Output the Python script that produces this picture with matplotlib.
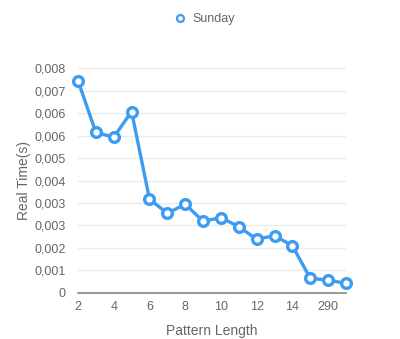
import numpy as np
import matplotlib.pyplot as plt

plt.rcParams['font.family'] = ['Liberation Sans', 'DejaVu Sans']

# categories (pattern length) and measured times
categories = ['2', '3', '4', '5', '6', '7', '8', '9', '10', '11', '12', '13', '14', '15', '290', '300']
sunday = [0.00755, 0.00571, 0.00554, 0.00645, 0.00334, 0.00283, 0.00316, 0.00255,
          0.00268, 0.00236, 0.00191, 0.00204, 0.00168, 0.00052, 0.00046, 0.00034]
ytick_vals = [0, 0.0008, 0.0016, 0.0024, 0.0032, 0.004, 0.0048, 0.0056, 0.0064, 0.0072, 0.008]
ytick_labels = ['0', '0,001', '0,002', '0,003', '0,003', '0,004', '0,005', '0,006', '0,006', '0,007', '0,008']

blue = '#3d9bf0'
grey = '#666666'

fig = plt.figure(figsize=(4.0, 3.39), dpi=100)
ax = fig.add_axes([0.195, 0.1357, 0.67, 0.6637])

x = np.arange(len(categories))
ax.plot(x, sunday, color=blue, lw=2.4, marker='o', markersize=7,
        markerfacecolor='white', markeredgecolor=blue, markeredgewidth=2.4,
        clip_on=False, zorder=3)

ax.set_xlim(0, len(categories) - 1)
ax.set_ylim(0, 0.008)
ax.set_xticks(x[::2])
ax.set_xticklabels(categories[::2])
ax.set_yticks(ytick_vals)
ax.set_yticklabels(ytick_labels)
ax.tick_params(axis='both', length=0, colors=grey, labelsize=9)
ax.tick_params(axis='y', pad=9)
ax.tick_params(axis='x', pad=6)

ax.grid(axis='y', color='#ebebeb', lw=1)
ax.set_axisbelow(True)
for s in ['top', 'right', 'left']:
    ax.spines[s].set_visible(False)
ax.spines['bottom'].set_color('#888888')
ax.spines['bottom'].set_linewidth(1.2)

ax.set_xlabel('Pattern Length', color=grey, fontsize=10, labelpad=8)
ax.set_ylabel('Real Time(s)', color=grey, fontsize=10, labelpad=2)

# legend handle: small ring, no line
handle = plt.Line2D([], [], linestyle='none', marker='o', markersize=5,
                    markerfacecolor='white', markeredgecolor=blue, markeredgewidth=1.6)
leg = fig.legend([handle], ['Sunday'], loc='upper center', bbox_to_anchor=(0.51, 0.995),
                 frameon=False, fontsize=9, handlelength=1.0, handletextpad=0.5)
for t in leg.get_texts():
    t.set_color(grey)

fig.savefig('out.png', dpi=100)
